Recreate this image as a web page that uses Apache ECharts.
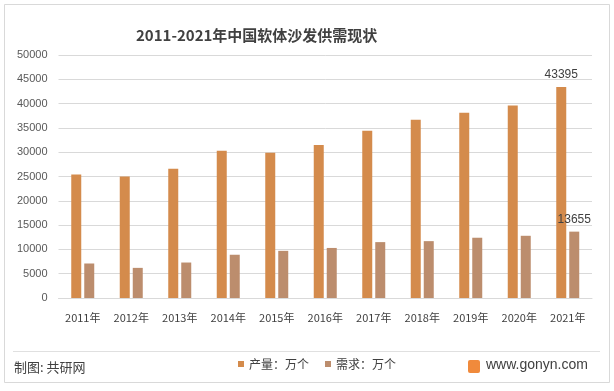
<!DOCTYPE html>
<html><head><meta charset="utf-8">
<script src="https://cdn.jsdelivr.net/npm/echarts@6/dist/echarts.min.js"></script>
<style>html,body{margin:0;padding:0;background:#fff}#c{width:614px;height:391px}</style>
</head><body><div id="c"></div>
<script>
const categories = ['2011年','2012年','2013年','2014年','2015年','2016年','2017年','2018年','2019年','2020年','2021年'];
const production = [25400, 25000, 26600, 30300, 29900, 31500, 34400, 36700, 38100, 39600, 43395];
const demand = [7100, 6200, 7300, 8900, 9700, 10300, 11500, 11700, 12400, 12800, 13655];
const seriesNames = ['产量：万个', '需求：万个'];
const titleText = '2011-2021年中国软体沙发供需现状';

const chart = echarts.init(document.getElementById('c'));
const lastLabel = (arr) => arr.map((v, i) => i === arr.length - 1
  ? {value: v, label: {show: true, position: 'top', color: '#404040', fontSize: 12, fontFamily: 'Liberation Sans, Arial', distance: 6}}
  : v);
chart.setOption({
  animation: false,
  backgroundColor: '#fff',
  title: {text: titleText, left: 131, top: 23,
    textStyle: {fontSize: 15, fontWeight: 'bold', color: '#404040', fontFamily: 'Noto Sans CJK SC'}},
  grid: {left: 58.5, right: 22, top: 55, bottom: 93, containLabel: false},
  legend: {data: seriesNames, left: 233, top: 353, itemWidth: 6, itemHeight: 6, itemGap: 16,
    icon: 'rect', textStyle: {fontSize: 12, color: '#404040', fontFamily: 'Noto Sans CJK SC'}},
  xAxis: {type: 'category', data: categories,
    axisLine: {lineStyle: {color: '#d9d9d9'}}, axisTick: {show: false},
    axisLabel: {color: '#404040', fontSize: 11, margin: 14, fontFamily: 'Noto Sans CJK SC'}},
  yAxis: {type: 'value', min: 0, max: 50000, interval: 5000,
    axisLine: {show: false}, axisTick: {show: false},
    splitLine: {lineStyle: {color: '#d9d9d9'}},
    axisLabel: {color: '#595959', fontSize: 11, margin: 11, fontFamily: 'Liberation Sans, Arial', formatter: (v) => String(v)}},
  series: [
    {name: seriesNames[0], type: 'bar', data: lastLabel(production), barWidth: 10, barGap: '30%',
     itemStyle: {color: '#D48B4C'}},
    {name: seriesNames[1], type: 'bar', data: lastLabel(demand), barWidth: 10,
     itemStyle: {color: '#BC8D6D'}}
  ],
  graphic: [
    {type: 'rect', shape: {x: 4.5, y: 4.5, width: 605, height: 378}, style: {fill: 'none', stroke: '#d9d9d9', lineWidth: 1}, silent: true},
    {type: 'line', shape: {x1: 13, y1: 351.5, x2: 600, y2: 351.5}, style: {stroke: '#e0e0e0', lineWidth: 1}},
    {type: 'text', left: 14, top: 361, style: {text: '制图: 共研网', fontSize: 13, fill: '#404040', fontFamily: 'Noto Sans CJK SC'}},
    {type: 'rect', shape: {x: 468, y: 360, width: 12, height: 13, r: 2}, style: {fill: '#F08A3C'}},
    {type: 'text', left: 486, top: 358, style: {text: 'www.gonyn.com', fontSize: 14, fill: '#404040', fontFamily: 'Liberation Sans, Arial'}}
  ]
});
</script></body></html>
